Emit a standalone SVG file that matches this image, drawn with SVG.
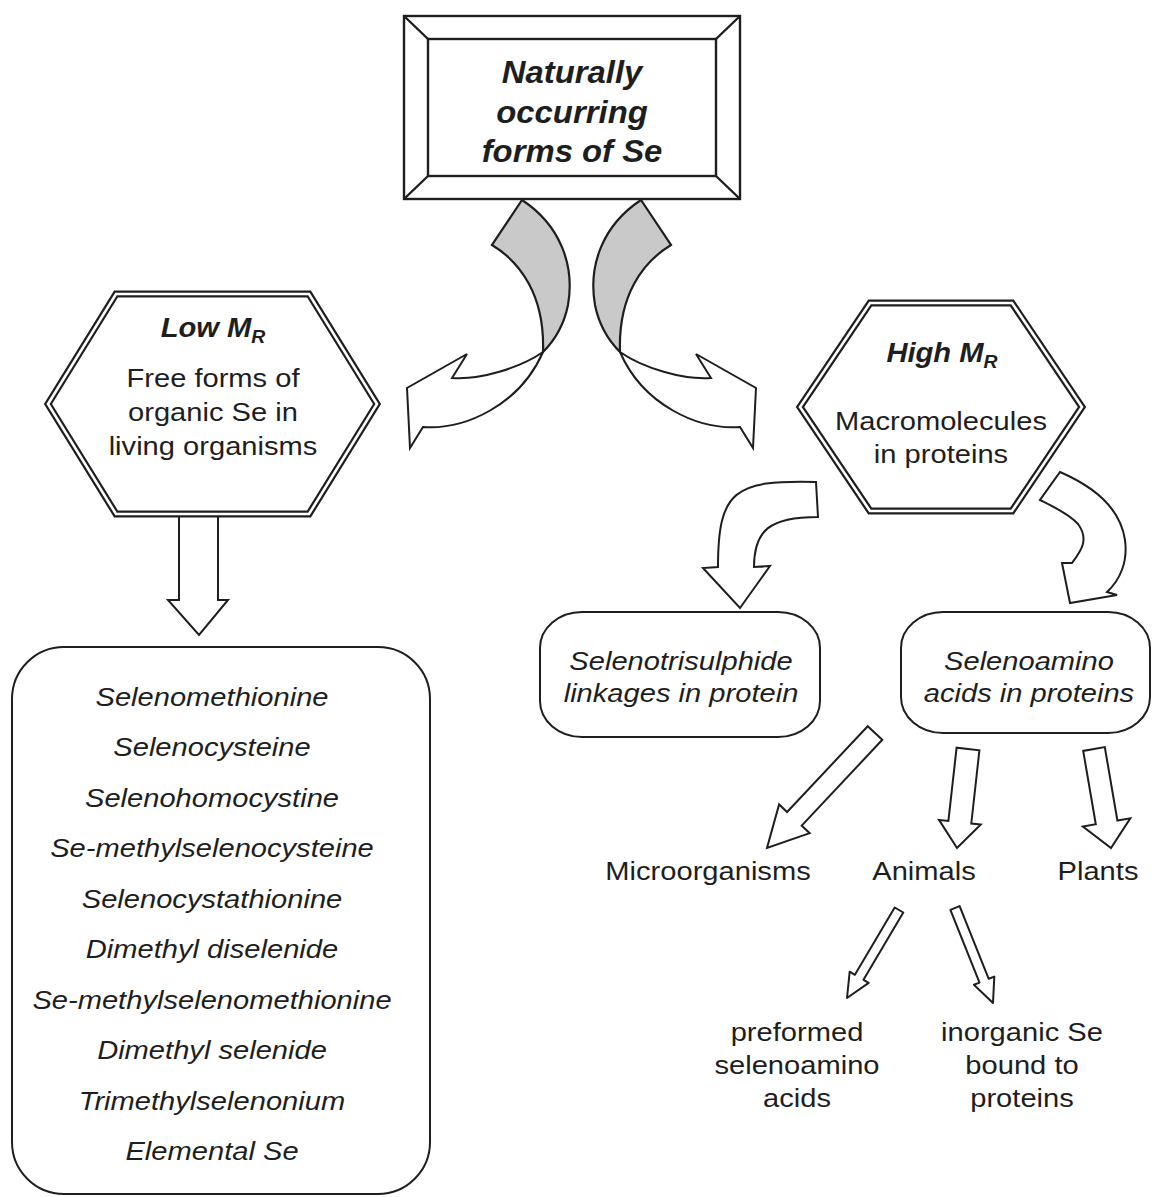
<svg xmlns="http://www.w3.org/2000/svg" width="1152" height="1197" viewBox="0 0 1152 1197">
<style>
.bg{fill:#fff}
.ln{fill:#fff;stroke:#1e1e1e;stroke-width:2;stroke-linejoin:miter}
.gr{fill:#c9c9c9;stroke:#1e1e1e;stroke-width:2.2}
.frame{fill:#fff;stroke:#1e1e1e;stroke-width:2.4}
.hexo{fill:#fff;stroke:#1e1e1e;stroke-width:7;stroke-linejoin:miter}
.hexi{fill:none;stroke:#fff;stroke-width:2.6;stroke-linejoin:miter}
text{font-family:"Liberation Sans",Arial,sans-serif;fill:#1e1e1e;text-anchor:middle}
.t{font-size:31px;font-weight:bold;font-style:italic}
.h{font-size:27px;font-weight:bold;font-style:italic}
.r{font-size:26px}
.i{font-size:26px;font-style:italic}
</style>
<rect class="bg" x="0" y="0" width="1152" height="1197"/>

<g id="connectors">
  <g id="arrow-left">
    <path class="ln" d="M543,352 C520,368 480,380 452,378 L467,354 L407,388 L410,448 L423,427 C465,430 520,405 543,352 Z"/>
    <path class="gr" d="M522,200 C560,225 575,265 568,305 C564,325 555,340 543,352 C545,295 520,262 492,245 Z"/>
  </g>
  <g id="arrow-right" transform="translate(1163,0) scale(-1,1)">
    <path class="ln" d="M543,352 C520,368 480,380 452,378 L467,354 L407,388 L410,448 L423,427 C465,430 520,405 543,352 Z"/>
    <path class="gr" d="M522,200 C560,225 575,265 568,305 C564,325 555,340 543,352 C545,295 520,262 492,245 Z"/>
  </g>
  <path class="ln" d="M179,508 V600 H168 L199,635 L228,600 H218 V508"/>
  <path class="ln" d="M816,482 C735,480 718,490 718,567 L703,568 L740,608 L770,566 L754,567 C754,530 770,517 818,517 Z"/>
  <path class="ln" d="M1060,472 C1090,485 1120,505 1125,540 C1128,562 1120,580 1107,592 L1117,595 L1070,603 L1062,563 L1072,563 C1080,552 1090,540 1078,524 C1068,513 1050,505 1040,500 Z"/>
  <polygon class="ln" points="882.3,739.8 801.7,825.6 809.7,833.2 767,848 779.1,804.4 787.1,812 867.7,726.2"/>
  <polygon class="ln" points="979.4,750.3 971.3,823.5 980.8,824.5 957,848 939,819.9 948.4,820.9 956.6,747.7"/>
  <polygon class="ln" points="1104.8,747.1 1117.4,820.5 1130.3,818.3 1111,848 1082.9,826.5 1095.8,824.3 1083.2,750.9"/>
  <polygon class="ln" style="stroke-linejoin:round" points="903.3,912.5 863.5,979.8 868.7,982.9 847,998 849.7,971.7 854.9,974.8 894.7,907.5"/>
  <polygon class="ln" style="stroke-linejoin:round" points="959.6,906.1 988.7,978.8 994.3,976.6 993,1003 973.9,984.8 979.5,982.6 950.4,909.9"/>
</g>

<g id="node-title">
  <rect class="frame" x="404" y="16" width="336" height="183"/>
  <rect class="frame" x="428" y="39" width="288" height="137"/>
  <path class="frame" d="M404,16 L428,39 M740,16 L716,39 M404,199 L428,176 M740,199 L716,176"/>
  <text class="t" transform="translate(572,83) scale(1.06,1)">Naturally</text>
  <text class="t" transform="translate(572,123) scale(1.06,1)">occurring</text>
  <text class="t" transform="translate(572,162) scale(1.06,1)">forms of Se</text>
</g>

<g id="node-low">
  <path class="hexo" d="M116,294 L309,294 L377,404 L309,514 L116,514 L48,404 Z"/>
  <path class="hexi" d="M116,294 L309,294 L377,404 L309,514 L116,514 L48,404 Z"/>
  <text class="h" transform="translate(213,337) scale(1.08,1)">Low M<tspan font-size="18" dy="6">R</tspan></text>
  <text class="r" transform="translate(213,387) scale(1.12,1)">Free forms of</text>
  <text class="r" transform="translate(213,421) scale(1.12,1)">organic Se in</text>
  <text class="r" transform="translate(213,455) scale(1.12,1)">living organisms</text>
</g>

<g id="node-high">
  <path class="hexo" d="M870,303 L1012,303 L1082,407 L1012,511 L870,511 L800,407 Z"/>
  <path class="hexi" d="M870,303 L1012,303 L1082,407 L1012,511 L870,511 L800,407 Z"/>
  <text class="h" transform="translate(942,362) scale(1.08,1)">High M<tspan font-size="18" dy="6">R</tspan></text>
  <text class="r" transform="translate(941,430) scale(1.12,1)">Macromolecules</text>
  <text class="r" transform="translate(941,463) scale(1.12,1)">in proteins</text>
</g>

<g id="node-list">
  <rect class="ln" x="12" y="647" width="418" height="547" rx="52" ry="52"/>
  <text class="i" transform="translate(212,706) scale(1.12,1)">Selenomethionine</text>
  <text class="i" transform="translate(212,756) scale(1.12,1)">Selenocysteine</text>
  <text class="i" transform="translate(212,807) scale(1.12,1)">Selenohomocystine</text>
  <text class="i" transform="translate(212,857) scale(1.12,1)">Se-methylselenocysteine</text>
  <text class="i" transform="translate(212,908) scale(1.12,1)">Selenocystathionine</text>
  <text class="i" transform="translate(212,958) scale(1.12,1)">Dimethyl diselenide</text>
  <text class="i" transform="translate(212,1009) scale(1.12,1)">Se-methylselenomethionine</text>
  <text class="i" transform="translate(212,1059) scale(1.12,1)">Dimethyl selenide</text>
  <text class="i" transform="translate(212,1110) scale(1.12,1)">Trimethylselenonium</text>
  <text class="i" transform="translate(212,1160) scale(1.12,1)">Elemental Se</text>
</g>

<g id="node-selenotrisulphide">
  <rect class="ln" x="540" y="612" width="280" height="125" rx="42" ry="36"/>
  <text class="i" transform="translate(681,670) scale(1.12,1)">Selenotrisulphide</text>
  <text class="i" transform="translate(681,702) scale(1.12,1)">linkages in protein</text>
</g>

<g id="node-selenoamino">
  <rect class="ln" x="901" y="612" width="249" height="121" rx="42" ry="36"/>
  <text class="i" transform="translate(1029,670) scale(1.12,1)">Selenoamino</text>
  <text class="i" transform="translate(1029,702) scale(1.12,1)">acids in proteins</text>
</g>

<g id="node-microorganisms">
  <text class="r" transform="translate(708,880) scale(1.12,1)">Microorganisms</text>
</g>
<g id="node-animals">
  <text class="r" transform="translate(924,880) scale(1.12,1)">Animals</text>
</g>
<g id="node-plants">
  <text class="r" transform="translate(1098,880) scale(1.12,1)">Plants</text>
</g>
<g id="node-preformed">
  <text class="r" transform="translate(797,1041) scale(1.12,1)">preformed</text>
  <text class="r" transform="translate(797,1074) scale(1.12,1)">selenoamino</text>
  <text class="r" transform="translate(797,1107) scale(1.12,1)">acids</text>
</g>
<g id="node-inorganic">
  <text class="r" transform="translate(1022,1041) scale(1.12,1)">inorganic Se</text>
  <text class="r" transform="translate(1022,1074) scale(1.12,1)">bound to</text>
  <text class="r" transform="translate(1022,1107) scale(1.12,1)">proteins</text>
</g>
</svg>
